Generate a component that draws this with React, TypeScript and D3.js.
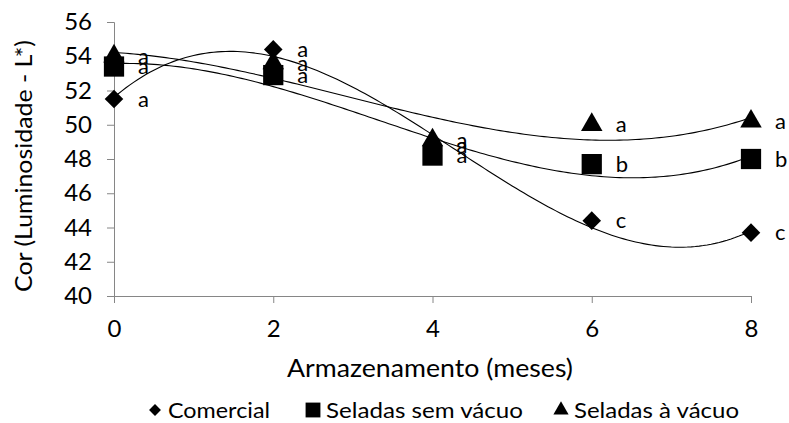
import React, { useEffect, useRef } from 'react';
import * as d3 from 'd3';

const months = [0, 2, 4, 6, 8];
const comercial = [51.5, 54.4, 48.8, 44.4, 43.7];
const semVacuo = [53.4, 52.9, 48.2, 47.7, 48.0];
const aVacuo = [54.0, 53.6, 49.1, 50.0, 50.2];
const letrasComercial = ['a', 'a', 'a', 'c', 'c'];
const letrasSemVacuo = ['a', 'a', 'a', 'b', 'b'];
const letrasAVacuo = ['a', 'a', 'a', 'a', 'a'];
const yTicks = [40, 42, 44, 46, 48, 50, 52, 54, 56];
const xTicks = [0, 2, 4, 6, 8];

// least-squares polynomial (like Excel's polynomial trendline)
function polyFit(xs: number[], ys: number[], order: number) {
  const n = order + 1;
  const A: number[][] = [];
  for (let i = 0; i < n; i++) {
    A.push([]);
    for (let j = 0; j < n; j++) A[i].push(d3.sum(xs, x => Math.pow(x, i + j)));
    A[i].push(d3.sum(xs, (x, k) => Math.pow(x, i) * ys[k]));
  }
  for (let c = 0; c < n; c++) {
    let p = c;
    for (let r = c + 1; r < n; r++) if (Math.abs(A[r][c]) > Math.abs(A[p][c])) p = r;
    [A[c], A[p]] = [A[p], A[c]];
    for (let r = 0; r < n; r++) {
      if (r === c) continue;
      const f = A[r][c] / A[c][c];
      for (let k = c; k <= n; k++) A[r][k] -= f * A[c][k];
    }
  }
  const coef = A.map((row, i) => row[n] / row[i]);
  return (x: number) => coef.reduce((s, c, i) => s + c * Math.pow(x, i), 0);
}

const App = () => {
  const ref = useRef<SVGSVGElement>(null);

  useEffect(() => {
    const svg = d3.select(ref.current);
    svg.selectAll('*').remove();
    const font = 'Lato, "Open Sans", sans-serif';

    const x = d3.scaleLinear().domain([0, 8]).range([114, 751]);
    const y = d3.scaleLinear().domain([40, 56]).range([296, 22]);

    const yAxis = svg.append('g')
      .attr('transform', 'translate(114,0)')
      .call(d3.axisLeft(y).tickValues(yTicks).tickSize(7).tickPadding(15));
    const xAxis = svg.append('g')
      .attr('transform', 'translate(0,296)')
      .call(d3.axisBottom(x).tickValues(xTicks).tickSize(7).tickPadding(17));
    [yAxis, xAxis].forEach(a => {
      a.select('.domain').attr('stroke', '#868686');
      a.selectAll('.tick line').attr('stroke', '#868686');
      a.selectAll('.tick text')
        .attr('fill', '#000')
        .style('font-family', font)
        .style('font-size', '24px');
    });

    const series = [
      { name: 'Comercial', values: comercial, letters: letrasComercial, shape: d3.symbolDiamond2, size: 220, legendSize: 90, legendX: 155, textLen: 102 },
      { name: 'Seladas sem vácuo', values: semVacuo, letters: letrasSemVacuo, shape: d3.symbolSquare, size: 410, legendSize: 220, legendX: 313, textLen: 197 },
      { name: 'Seladas à vácuo', values: aVacuo, letters: letrasAVacuo, shape: d3.symbolTriangle, size: 200, legendSize: 100, legendX: 561, textLen: 165 },
    ];

    const line = d3.line<number>().x(d => x(d)).curve(d3.curveLinear);
    series.forEach(s => {
      const f = polyFit(months, s.values, 3);
      const pts = d3.range(0, 8.001, 0.05);
      svg.append('path')
        .datum(pts)
        .attr('d', line.y(d => y(f(d))))
        .attr('fill', 'none')
        .attr('stroke', '#000')
        .attr('stroke-width', 1.1);
    });

    series.forEach(s => {
      svg.append('g').selectAll('path')
        .data(months)
        .enter()
        .append('path')
        .attr('d', d3.symbol().type(s.shape).size(s.size)())
        .attr('transform', (d, i) => `translate(${x(d)},${y(s.values[i])})`)
        .attr('fill', '#000');
    });

    series.forEach(s => {
      svg.append('g').selectAll('text')
        .data(months)
        .enter()
        .append('text')
        .attr('x', d => x(d) + 24)
        .attr('y', (d, i) => y(s.values[i]))
        .attr('dy', '0.35em')
        .style('font-family', font)
        .style('font-size', '22px')
        .text((d, i) => s.letters[i]);
    });

    svg.append('text')
      .attr('transform', 'translate(32,166) rotate(-90)')
      .attr('text-anchor', 'middle')
      .attr('textLength', 252)
      .attr('lengthAdjust', 'spacingAndGlyphs')
      .style('font-family', font)
      .style('font-size', '23px')
      .text('Cor (Luminosidade - L*)');

    svg.append('text')
      .attr('x', 430)
      .attr('y', 377)
      .attr('text-anchor', 'middle')
      .attr('textLength', 286)
      .attr('lengthAdjust', 'spacingAndGlyphs')
      .style('font-family', font)
      .style('font-size', '25px')
      .text('Armazenamento (meses)');

    const legend = svg.append('g');
    series.forEach(s => {
      legend.append('path')
        .attr('d', d3.symbol().type(s.shape).size(s.legendSize)())
        .attr('transform', `translate(${s.legendX},410)`)
        .attr('fill', '#000');
      legend.append('text')
        .attr('x', s.legendX + 13)
        .attr('y', 418)
        .attr('textLength', s.textLen)
        .attr('lengthAdjust', 'spacingAndGlyphs')
        .style('font-family', font)
        .style('font-size', '22px')
        .text(s.name);
    });
  }, []);

  return <svg ref={ref} width="789" height="423" style={{ position: 'absolute', left: 0, top: 0, background: '#fff' }}></svg>;
};

export default App;
